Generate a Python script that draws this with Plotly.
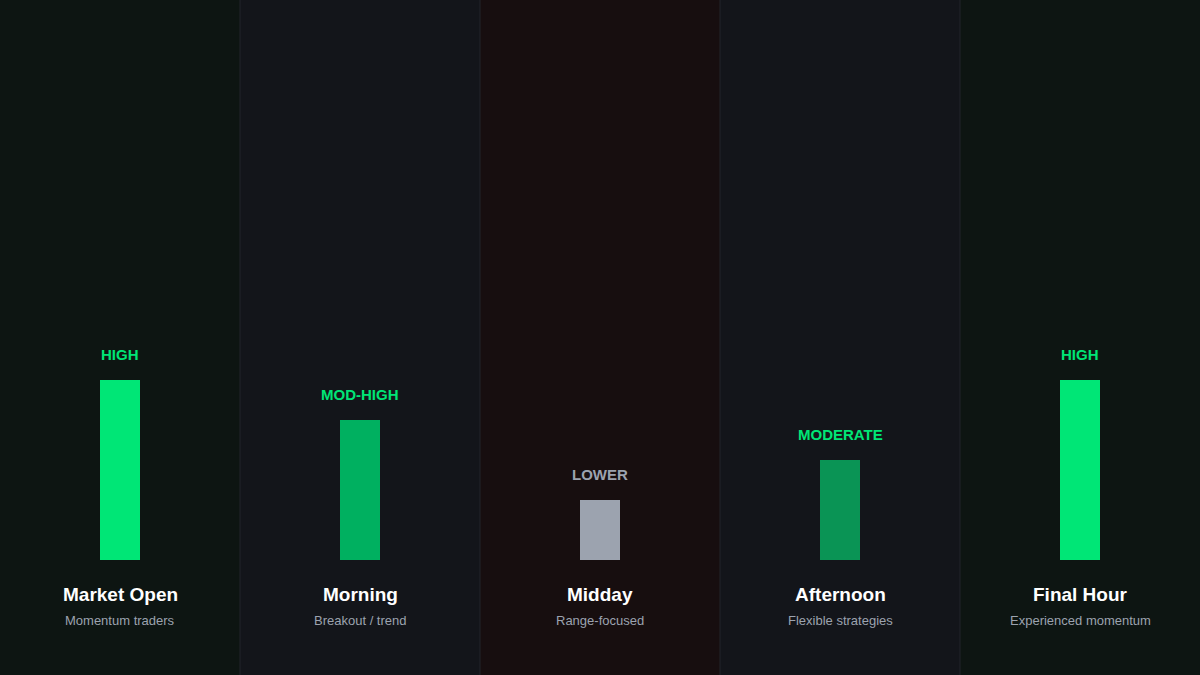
import plotly.graph_objects as go

sessions = ["Market Open", "Morning", "Midday", "Afternoon", "Final Hour"]
subtitles = ["Momentum traders", "Breakout / trend", "Range-focused", "Flexible strategies", "Experienced momentum"]
levels = ["HIGH", "MOD-HIGH", "LOWER", "MODERATE", "HIGH"]
scores = [9, 7, 3, 5, 9]
bar_colors = ["#00e676", "#00b060", "#9ca3af", "#0a9455", "#00e676"]
label_colors = ["#00e676", "#00e676", "#9ca3af", "#00e676", "#00e676"]
panel_colors = ["#0d1512", "#13151a", "#170e0f", "#13151a", "#0d1512"]

W, H = 1200, 675
n = len(sessions)
xpos = [i + 0.5 for i in range(n)]

fig = go.Figure()
fig.add_trace(go.Bar(
    x=xpos, y=scores, width=1/6,
    marker=dict(color=bar_colors, line=dict(width=0)),
    hoverinfo="skip", showlegend=False,
))

shapes = []
for i, c in enumerate(panel_colors):
    shapes.append(dict(type="rect", xref="x", yref="paper", x0=i, x1=i + 1, y0=0, y1=1,
                       fillcolor=c, line=dict(width=0), layer="below"))
for i in range(1, n):
    shapes.append(dict(type="line", xref="x", yref="paper", x0=i, x1=i, y0=0, y1=1,
                       line=dict(color="#22252b", width=1), layer="below"))

ann = []
for i in range(n):
    ann.append(dict(x=xpos[i], y=scores[i], xref="x", yref="y", text=f"<b>{levels[i]}</b>",
                    showarrow=False, yshift=26, font=dict(size=15, color=label_colors[i],
                    family="Liberation Sans, Arial, sans-serif")))
    ann.append(dict(x=xpos[i], y=0, xref="x", yref="y", text=f"<b>{sessions[i]}</b>",
                    showarrow=False, yshift=-34, font=dict(size=19, color="#ffffff",
                    family="Liberation Sans, Arial, sans-serif")))
    ann.append(dict(x=xpos[i], y=0, xref="x", yref="y", text=subtitles[i],
                    showarrow=False, yshift=-60, font=dict(size=13, color="#9ca3af",
                    family="Liberation Sans, Arial, sans-serif")))

fig.update_layout(
    width=W, height=H,
    margin=dict(l=0, r=0, t=0, b=0),
    paper_bgcolor="#13151a", plot_bgcolor="rgba(0,0,0,0)",
    xaxis=dict(range=[0, n], visible=False, fixedrange=True),
    yaxis=dict(range=[-5.75, 28], visible=False, fixedrange=True),
    shapes=shapes, annotations=ann,
    bargap=0,
)
fig.write_html("out.html", config={"displayModeBar": False},
               post_script="document.body.style.margin='0';document.body.style.overflow='hidden';document.body.style.background='#13151a';")
